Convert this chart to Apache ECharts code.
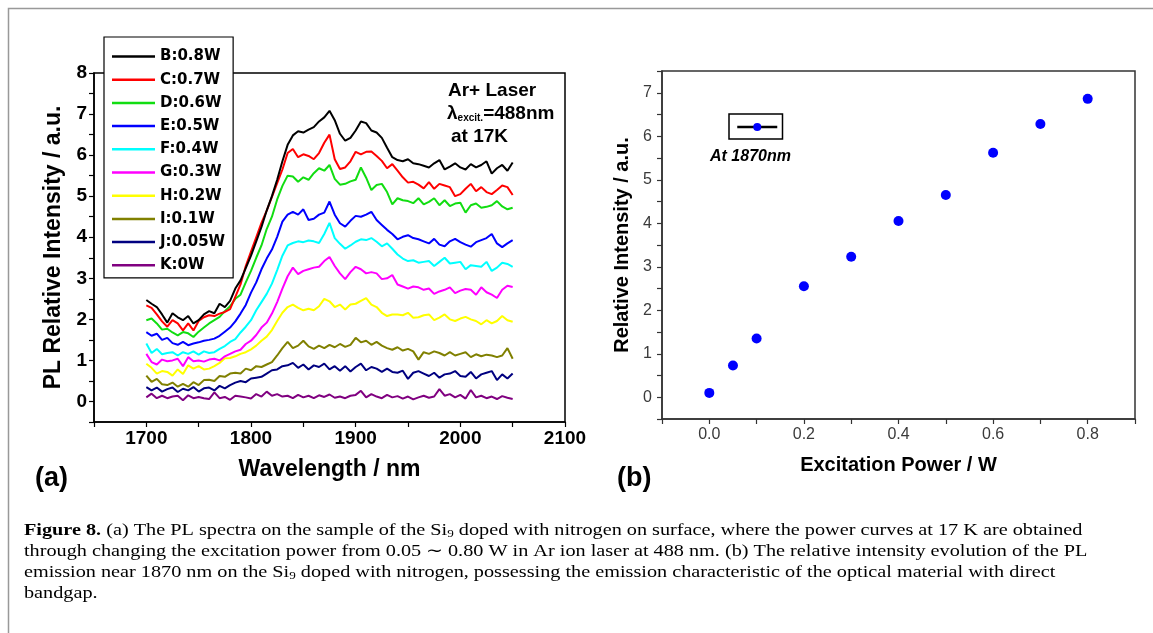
<!DOCTYPE html>
<html>
<head>
<meta charset="utf-8">
<script src="https://cdn.jsdelivr.net/npm/echarts@6.0.0/dist/echarts.min.js"></script>
<style>
html,body{margin:0;padding:0;background:#fff;}
#chart{width:1153px;height:633px;}
</style>
</head>
<body>
<div id="chart"></div>
<script>
// ---------- Panel (a): PL spectra ----------
const wavelengths = [
  1700,1705,1710,1715,1720,1725,1730,1735,1740,1745,
  1750,1755,1760,1765,1770,1775,1780,1785,1790,1795,
  1800,1805,1810,1815,1820,1825,1830,1835,1840,1845,
  1850,1855,1860,1865,1870,1875,1880,1885,1890,1895,
  1900,1905,1910,1915,1920,1925,1930,1935,1940,1945,
  1950,1955,1960,1965,1970,1975,1980,1985,1990,1995,
  2000,2005,2010,2015,2020,2025,2030,2035,2040,2045,
  2050
];
const seriesNames = ['B:0.8W','C:0.7W','D:0.6W','E:0.5W','F:0.4W','G:0.3W','H:0.2W','I:0.1W','J:0.05W','K:0W'];
const seriesColors = ['#000000','#ff0000','#11dd11','#0000ff','#00ffff','#ff00ff','#ffff00','#808000','#000080','#800080'];

const pl_B = [
  2.47,2.38,2.30,2.12,1.92,2.15,2.05,1.98,2.08,1.90,
  1.98,2.12,2.20,2.15,2.38,2.30,2.45,2.75,2.95,3.25,
  3.55,3.90,4.25,4.65,5.00,5.40,5.85,6.25,6.48,6.58,
  6.55,6.62,6.68,6.82,6.92,7.08,6.85,6.52,6.35,6.42,
  6.60,6.82,6.78,6.60,6.55,6.42,6.18,5.95,5.88,5.85,
  5.90,5.80,5.78,5.74,5.70,5.80,5.88,5.65,5.72,5.80,
  5.70,5.65,5.78,5.70,5.76,5.85,5.55,5.68,5.76,5.62,
  5.82
];
const pl_C = [
  2.34,2.28,2.12,1.95,1.82,1.98,1.90,1.73,1.90,1.73,
  1.96,2.05,2.10,2.08,2.14,2.18,2.25,2.55,2.85,3.30,
  3.65,4.00,4.35,4.65,4.98,5.32,5.65,6.05,6.15,5.95,
  6.02,5.98,5.90,6.05,6.30,6.50,5.90,5.66,5.70,5.85,
  6.08,6.02,6.08,6.09,5.98,5.86,5.68,5.78,5.62,5.46,
  5.33,5.35,5.28,5.19,5.34,5.18,5.30,5.26,5.22,5.00,
  5.05,5.18,5.30,5.12,5.22,5.10,5.05,5.15,5.26,5.22,
  5.03
];
const pl_D = [
  1.98,2.02,1.90,1.75,1.77,1.68,1.61,1.69,1.66,1.57,
  1.70,1.80,1.90,1.98,2.06,2.20,2.32,2.50,2.60,2.90,
  3.18,3.50,3.80,4.20,4.50,4.92,5.25,5.50,5.48,5.35,
  5.46,5.40,5.56,5.68,5.62,5.76,5.42,5.28,5.30,5.36,
  5.40,5.70,5.45,5.15,5.27,5.30,5.10,4.80,4.95,4.90,
  4.88,4.83,4.95,4.80,4.86,4.95,4.78,4.90,4.76,4.82,
  4.84,4.60,4.78,4.82,4.72,4.74,4.78,4.88,4.75,4.68,
  4.72
];
const pl_E = [
  1.69,1.60,1.65,1.50,1.55,1.42,1.38,1.45,1.37,1.41,
  1.44,1.48,1.50,1.53,1.60,1.70,1.80,1.95,2.14,2.35,
  2.65,2.90,3.22,3.48,3.70,4.01,4.38,4.55,4.62,4.55,
  4.68,4.42,4.45,4.55,4.60,4.87,4.55,4.34,4.26,4.40,
  4.52,4.50,4.55,4.62,4.42,4.30,4.18,4.08,3.95,4.01,
  4.05,3.98,3.95,3.90,3.85,3.96,3.82,3.78,3.90,3.96,
  3.88,3.82,3.77,3.88,3.93,3.98,4.08,3.85,3.76,3.85,
  3.93
];
const pl_F = [
  1.41,1.18,1.28,1.15,1.18,1.20,1.12,1.20,1.16,1.22,
  1.14,1.22,1.18,1.20,1.28,1.35,1.45,1.52,1.68,1.82,
  1.98,2.22,2.42,2.62,2.87,3.20,3.55,3.80,3.86,3.90,
  3.88,3.92,3.90,3.86,4.08,4.35,3.98,3.84,3.72,3.80,
  3.89,3.95,3.93,3.98,3.89,3.78,3.85,3.72,3.58,3.48,
  3.42,3.44,3.38,3.40,3.42,3.30,3.40,3.50,3.36,3.38,
  3.40,3.22,3.32,3.30,3.28,3.40,3.18,3.26,3.38,3.35,
  3.28
];
const pl_G = [
  1.16,0.96,0.90,1.02,0.98,1.00,1.04,0.86,1.08,0.98,
  1.00,0.97,1.02,1.04,1.00,1.10,1.16,1.22,1.26,1.40,
  1.48,1.62,1.80,1.92,2.14,2.42,2.75,3.05,3.26,3.10,
  3.18,3.22,3.26,3.28,3.42,3.52,3.30,3.12,2.98,3.15,
  3.28,3.22,3.12,3.15,3.12,2.98,3.00,3.08,2.85,2.80,
  2.75,2.80,2.78,2.72,2.75,2.62,2.68,2.72,2.78,2.64,
  2.70,2.74,2.72,2.60,2.78,2.66,2.60,2.52,2.72,2.82,
  2.79
];
const pl_H = [
  0.92,0.82,0.68,0.74,0.72,0.63,0.78,0.67,0.88,0.80,
  0.86,0.78,0.80,0.86,0.94,1.05,1.06,1.10,1.16,1.20,
  1.27,1.36,1.48,1.58,1.74,1.96,2.16,2.30,2.36,2.28,
  2.22,2.26,2.22,2.32,2.50,2.44,2.30,2.36,2.24,2.36,
  2.38,2.45,2.52,2.36,2.30,2.16,2.08,2.12,2.12,2.10,
  2.16,2.04,2.05,2.10,2.12,1.98,2.04,2.12,2.00,1.96,
  2.02,2.06,2.00,1.96,1.88,1.98,1.90,1.96,2.08,1.98,
  1.94
];
const pl_I = [
  0.63,0.48,0.55,0.42,0.40,0.46,0.36,0.43,0.36,0.47,
  0.40,0.52,0.53,0.50,0.62,0.60,0.68,0.70,0.68,0.80,
  0.76,0.86,0.84,0.90,0.96,1.12,1.30,1.45,1.30,1.36,
  1.48,1.34,1.28,1.36,1.30,1.38,1.32,1.40,1.33,1.38,
  1.55,1.44,1.48,1.38,1.45,1.36,1.30,1.26,1.32,1.24,
  1.28,1.22,1.02,1.20,1.16,1.22,1.18,1.12,1.20,1.12,
  1.16,1.20,1.08,1.15,1.10,1.14,1.12,1.08,1.12,1.30,
  1.04
];
const pl_J = [
  0.35,0.27,0.34,0.24,0.30,0.34,0.23,0.31,0.27,0.35,
  0.24,0.32,0.34,0.27,0.38,0.32,0.40,0.46,0.50,0.47,
  0.56,0.58,0.60,0.68,0.76,0.78,0.86,0.88,0.94,0.82,
  0.90,0.78,0.88,0.84,0.92,0.78,0.86,0.75,0.86,0.73,
  0.84,0.92,0.76,0.84,0.80,0.72,0.80,0.72,0.70,0.75,
  0.55,0.70,0.74,0.68,0.62,0.70,0.58,0.66,0.68,0.74,
  0.62,0.60,0.72,0.56,0.66,0.70,0.74,0.52,0.66,0.56,
  0.68
];
const pl_K = [
  0.10,0.19,0.08,0.14,0.08,0.12,0.14,0.03,0.15,0.08,
  0.11,0.08,0.06,0.22,0.08,0.11,0.04,0.14,0.12,0.10,
  0.07,0.18,0.12,0.24,0.14,0.18,0.12,0.14,0.08,0.16,
  0.10,0.14,0.08,0.15,0.11,0.17,0.09,0.12,0.08,0.14,
  0.16,0.26,0.10,0.18,0.12,0.08,0.16,0.10,0.13,0.07,
  0.12,0.05,0.10,0.14,0.09,0.12,0.30,0.14,0.18,0.10,
  0.16,0.07,0.28,0.10,0.14,0.08,0.12,0.06,0.13,0.09,
  0.06
];
const plValues = [pl_B, pl_C, pl_D, pl_E, pl_F, pl_G, pl_H, pl_I, pl_J, pl_K];

// ---------- Panel (b): intensity at 1870 nm ----------
const powers = [0, 0.05, 0.1, 0.2, 0.3, 0.4, 0.5, 0.6, 0.7, 0.8];
const intensity1870 = [0.10, 0.73, 1.35, 2.55, 3.23, 4.05, 4.65, 5.62, 6.28, 6.86];
const seriesBName = 'At 1870nm';

const captionLines = [
  '{b|Figure 8.} (a) The PL spectra on the sample of the Si{s|9} doped with nitrogen on surface, where the power curves at 17 K are obtained',
  'through changing the excitation power from 0.05 \u223C 0.80 W in Ar ion laser at 488 nm. (b) The relative intensity evolution of the PL',
  'emission near 1870 nm on the Si{s|9} doped with nitrogen, possessing the emission characteristic of the optical material with direct',
  'bandgap.'
];

const SANS = '"Liberation Sans", Arial, sans-serif';
const SERIF = '"Liberation Serif", "Times New Roman", serif';

const chart = echarts.init(document.getElementById('chart'), null, {renderer: 'canvas'});

const plSeries = seriesNames.map((name, k) => ({
  name: name,
  type: 'line',
  xAxisIndex: 0,
  yAxisIndex: 0,
  symbol: 'none',
  data: wavelengths.map((w, i) => [w, plValues[k][i]]),
  lineStyle: {color: seriesColors[k], width: 2},
  itemStyle: {color: seriesColors[k]},
  z: 2 + (9 - k) * 0.01
}));

const bSeries = {
  name: seriesBName,
  type: 'line',
  xAxisIndex: 1,
  yAxisIndex: 1,
  symbol: 'circle',
  symbolSize: 10,
  showSymbol: true,
  data: powers.map((p, i) => [p, intensity1870[i]]),
  lineStyle: {width: 0, opacity: 0},
  itemStyle: {color: '#0000ff'}
};

const captionGraphics = captionLines.map((t, i) => ({
  type: 'text',
  x: 24,
  y: 531 + i * 21,
  scaleX: 1.19,
  style: {
    text: t,
    font: '17px ' + SERIF,
    fill: '#000',
    verticalAlign: 'middle',
    rich: {
      b: {fontWeight: 'bold', fontSize: 17, fontFamily: SERIF},
      s: {fontSize: 11, fontFamily: SERIF, verticalAlign: 'bottom', padding: [6, 0, 0, 0]}
    }
  }
}));

const option = {
  animation: false,
  backgroundColor: '#ffffff',
  grid: [
    {left: 94, top: 73, width: 471, height: 349, show: true, borderColor: '#000', borderWidth: 1.5, backgroundColor: 'transparent'},
    {left: 662, top: 71, width: 473, height: 348, show: true, borderColor: '#333', borderWidth: 1.5, backgroundColor: 'transparent'}
  ],
  xAxis: [
    {
      gridIndex: 0, type: 'value', min: 1650, max: 2100, interval: 50,
      name: 'Wavelength / nm', nameLocation: 'middle', nameGap: 36,
      nameTextStyle: {fontFamily: SANS, fontWeight: 'bold', fontSize: 23, color: '#000'},
      axisLine: {show: true, onZero: false, lineStyle: {color: '#000', width: 1.5}},
      axisTick: {show: true, inside: false, length: 5, lineStyle: {color: '#000', width: 1.2}},
      axisLabel: {margin: 7, fontFamily: SANS, fontWeight: 'bold', fontSize: 19, color: '#000',
        formatter: v => (Math.round(v) % 100 === 0 ? String(Math.round(v)) : '')},
      splitLine: {show: false}
    },
    {
      gridIndex: 1, type: 'value', min: -0.1, max: 0.9, interval: 0.1,
      name: 'Excitation Power / W', nameLocation: 'middle', nameGap: 36,
      nameTextStyle: {fontFamily: SANS, fontWeight: 'bold', fontSize: 20, color: '#000'},
      axisLine: {show: true, onZero: false, lineStyle: {color: '#333', width: 1.5}},
      axisTick: {show: true, inside: false, length: 5, lineStyle: {color: '#333', width: 1.2}},
      axisLabel: {margin: 8, fontFamily: SANS, fontSize: 16, color: '#3a3a3a',
        formatter: v => { const t = Math.round(v * 10); return (t >= 0 && t % 2 === 0) ? (t / 10).toFixed(1) : ''; }},
      splitLine: {show: false}
    }
  ],
  yAxis: [
    {
      gridIndex: 0, type: 'value', min: -0.5, max: 8, interval: 0.5,
      name: 'PL Relative Intensity / a.u.', nameLocation: 'middle', nameGap: 29,
      nameTextStyle: {fontFamily: SANS, fontWeight: 'bold', fontSize: 23, color: '#000'},
      axisLine: {show: true, onZero: false, lineStyle: {color: '#000', width: 1.5}},
      axisTick: {show: true, inside: false, length: 5, lineStyle: {color: '#000', width: 1.2}},
      axisLabel: {margin: 7, fontFamily: SANS, fontWeight: 'bold', fontSize: 19, color: '#000',
        formatter: v => (Math.abs(v - Math.round(v)) < 1e-6 && v >= 0 ? String(Math.round(v)) : '')},
      splitLine: {show: false}
    },
    {
      gridIndex: 1, type: 'value', min: -0.5, max: 7.5, interval: 0.5,
      name: 'Relative Intensity / a.u.', nameLocation: 'middle', nameGap: 30,
      nameTextStyle: {fontFamily: SANS, fontWeight: 'bold', fontSize: 20, color: '#000'},
      axisLine: {show: true, onZero: false, lineStyle: {color: '#333', width: 1.5}},
      axisTick: {show: true, inside: false, length: 5, lineStyle: {color: '#333', width: 1.2}},
      axisLabel: {margin: 10, fontFamily: SANS, fontSize: 16, color: '#3a3a3a',
        formatter: v => (Math.abs(v - Math.round(v)) < 1e-6 && v >= 0 ? String(Math.round(v)) : '')},
      splitLine: {show: false}
    }
  ],
  legend: [
    {
      data: seriesNames,
      orient: 'vertical',
      left: 104, top: 37,
      padding: [12, 8, 5, 8],
      itemGap: 8.2,
      icon: 'rect',
      itemWidth: 43, itemHeight: 2.5,
      backgroundColor: '#fff',
      borderColor: '#000', borderWidth: 1.2,
      selectedMode: false,
      textStyle: {fontFamily: '"DejaVu Sans", sans-serif', fontWeight: 'bold', fontSize: 15, lineHeight: 14, color: '#000'}
    },
    {
      data: [seriesBName],
      left: 729, top: 114,
      padding: [8, 4, 8, 7],
      itemWidth: 40, itemHeight: 10,
      borderColor: '#000', borderWidth: 1.5,
      selectedMode: false,
      formatter: () => '',
      lineStyle: {color: '#000', width: 2.5, opacity: 1, type: 'solid'},
      itemStyle: {color: '#0000ff', opacity: 1},
      textStyle: {fontSize: 10}
    }
  ],
  series: plSeries.concat([bSeries]),
  graphic: [
    {type: 'rect', x: 8.5, y: 8.5, shape: {x: 0, y: 0, width: 1200, height: 700}, style: {fill: 'none', stroke: '#999', lineWidth: 1.5}, silent: true, z: -10},
    {type: 'text', left: 448, top: 81, style: {text: 'Ar+ Laser', font: 'bold 19px ' + SANS, fill: '#000'}},
    {type: 'text', left: 447, top: 104, style: {
      text: '{l|\u03BB}{e|excit.}{l|=488nm}',
      font: 'bold 19px ' + SANS, fill: '#000',
      rich: {
        l: {fontSize: 19, fontWeight: 'bold', fontFamily: SANS},
        e: {fontSize: 10, fontWeight: 'bold', fontFamily: SANS, verticalAlign: 'bottom', padding: [4, 0, 0, 0]}
      }
    }},
    {type: 'text', left: 451, top: 127, style: {text: 'at 17K', font: 'bold 19px ' + SANS, fill: '#000'}},
    {type: 'text', left: 35, top: 465, style: {text: '(a)', font: 'bold 27px ' + SANS, fill: '#000'}},
    {type: 'text', left: 617, top: 465, style: {text: '(b)', font: 'bold 27px ' + SANS, fill: '#000'}},
    {type: 'text', left: 710, top: 149, style: {text: 'At 1870nm', font: 'italic bold 16px ' + SANS, fill: '#000'}}
  ].concat(captionGraphics)
};

chart.setOption(option);
</script>
</body>
</html>
